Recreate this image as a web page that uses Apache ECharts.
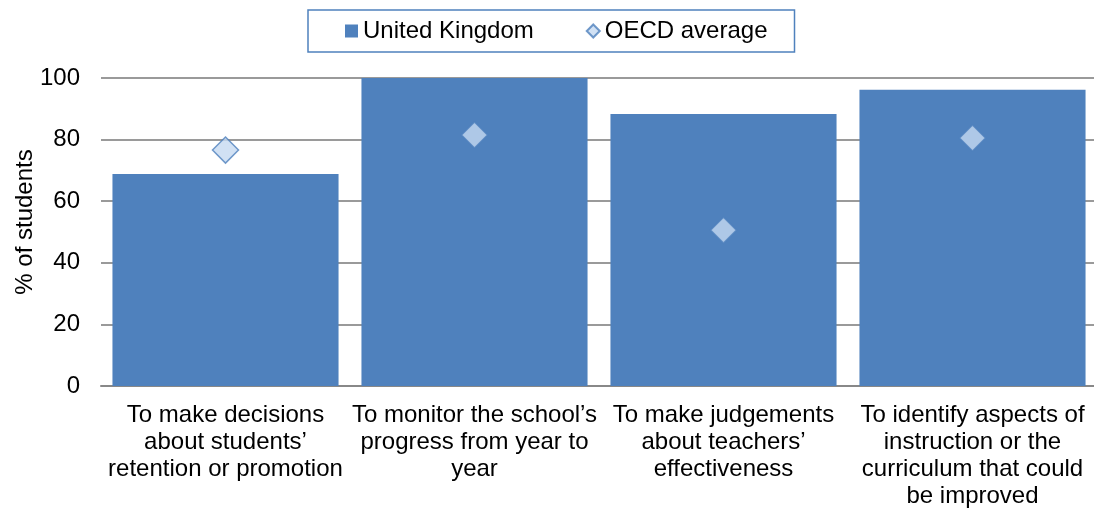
<!DOCTYPE html>
<html>
<head>
<meta charset="utf-8">
<script src="https://cdn.jsdelivr.net/npm/echarts@6/dist/echarts.min.js"></script>
<style>
  html, body { margin: 0; padding: 0; background: #fff; }
  #chart { width: 1094px; height: 509px; }
</style>
</head>
<body>
<div id="chart"></div>
<script>
let categories = [
    'To make decisions\nabout students\u2019\nretention or promotion',
    'To monitor the school\u2019s\nprogress from year to\nyear',
    'To make judgements\nabout teachers\u2019\neffectiveness',
    'To identify aspects of\ninstruction or the\ncurriculum that could\nbe improved'
];
let ukValues = [68.8, 100, 88.3, 96.2];
let oecdValues = [76.6, 81.5, 50.6, 80.5];
let yTicks = [0, 20, 40, 60, 80, 100];

let dom = document.getElementById("chart");
let chart = echarts.init(dom);

let option = {
    animation: false,
    textStyle: {
        fontFamily: 'Liberation Sans, Arial, sans-serif',
        color: '#000'
    },
    legend: {
        data: [
            { name: 'United Kingdom', icon: 'rect' },
            { name: 'OECD average', icon: 'diamond' }
        ],
        left: 308,
        top: 10,
        itemWidth: 13,
        itemHeight: 13,
        itemGap: 52,
        borderColor: '#4f81bd',
        borderWidth: 1.5,
        padding: [9, 27, 9, 37],
        textStyle: {
            fontSize: 24,
            color: '#000'
        }
    },
    grid: {
        left: 101,
        top: 78,
        width: 996,
        bottom: 123,
        outerBoundsMode: 'none',
        containLabel: false
    },
    xAxis: {
        type: 'category',
        data: categories,
        axisLine: {
            lineStyle: { color: '#888', width: 2 }
        },
        axisTick: { show: false },
        axisLabel: {
            fontSize: 24,
            color: '#000',
            lineHeight: 27,
            margin: 16,
            interval: 0
        }
    },
    yAxis: {
        type: 'value',
        min: yTicks[0],
        max: yTicks[yTicks.length - 1],
        interval: 20,
        name: '% of students',
        nameLocation: 'middle',
        nameGap: 64,
        nameMoveOverlap: false,
        nameTextStyle: {
            fontSize: 24,
            color: '#000',
            padding: [0, 0, 0, 20]
        },
        axisLine: { show: false },
        axisTick: { show: false },
        axisLabel: {
            fontSize: 24,
            color: '#000',
            margin: 21
        },
        splitLine: {
            lineStyle: { color: '#9a9a9a', width: 2 }
        }
    },
    series: [
        {
            name: 'United Kingdom',
            type: 'bar',
            data: ukValues,
            barCategoryGap: '9.2%',
            itemStyle: { color: '#4f81bd' }
        },
        {
            name: 'OECD average',
            type: 'scatter',
            data: oecdValues,
            symbol: 'diamond',
            symbolSize: 26,
            z: 5,
            itemStyle: {
                color: '#c6d9f1',
                borderColor: '#4f81bd',
                borderWidth: 1.5
            }
        }
    ]
};

chart.setOption(option);
</script>
</body>
</html>
